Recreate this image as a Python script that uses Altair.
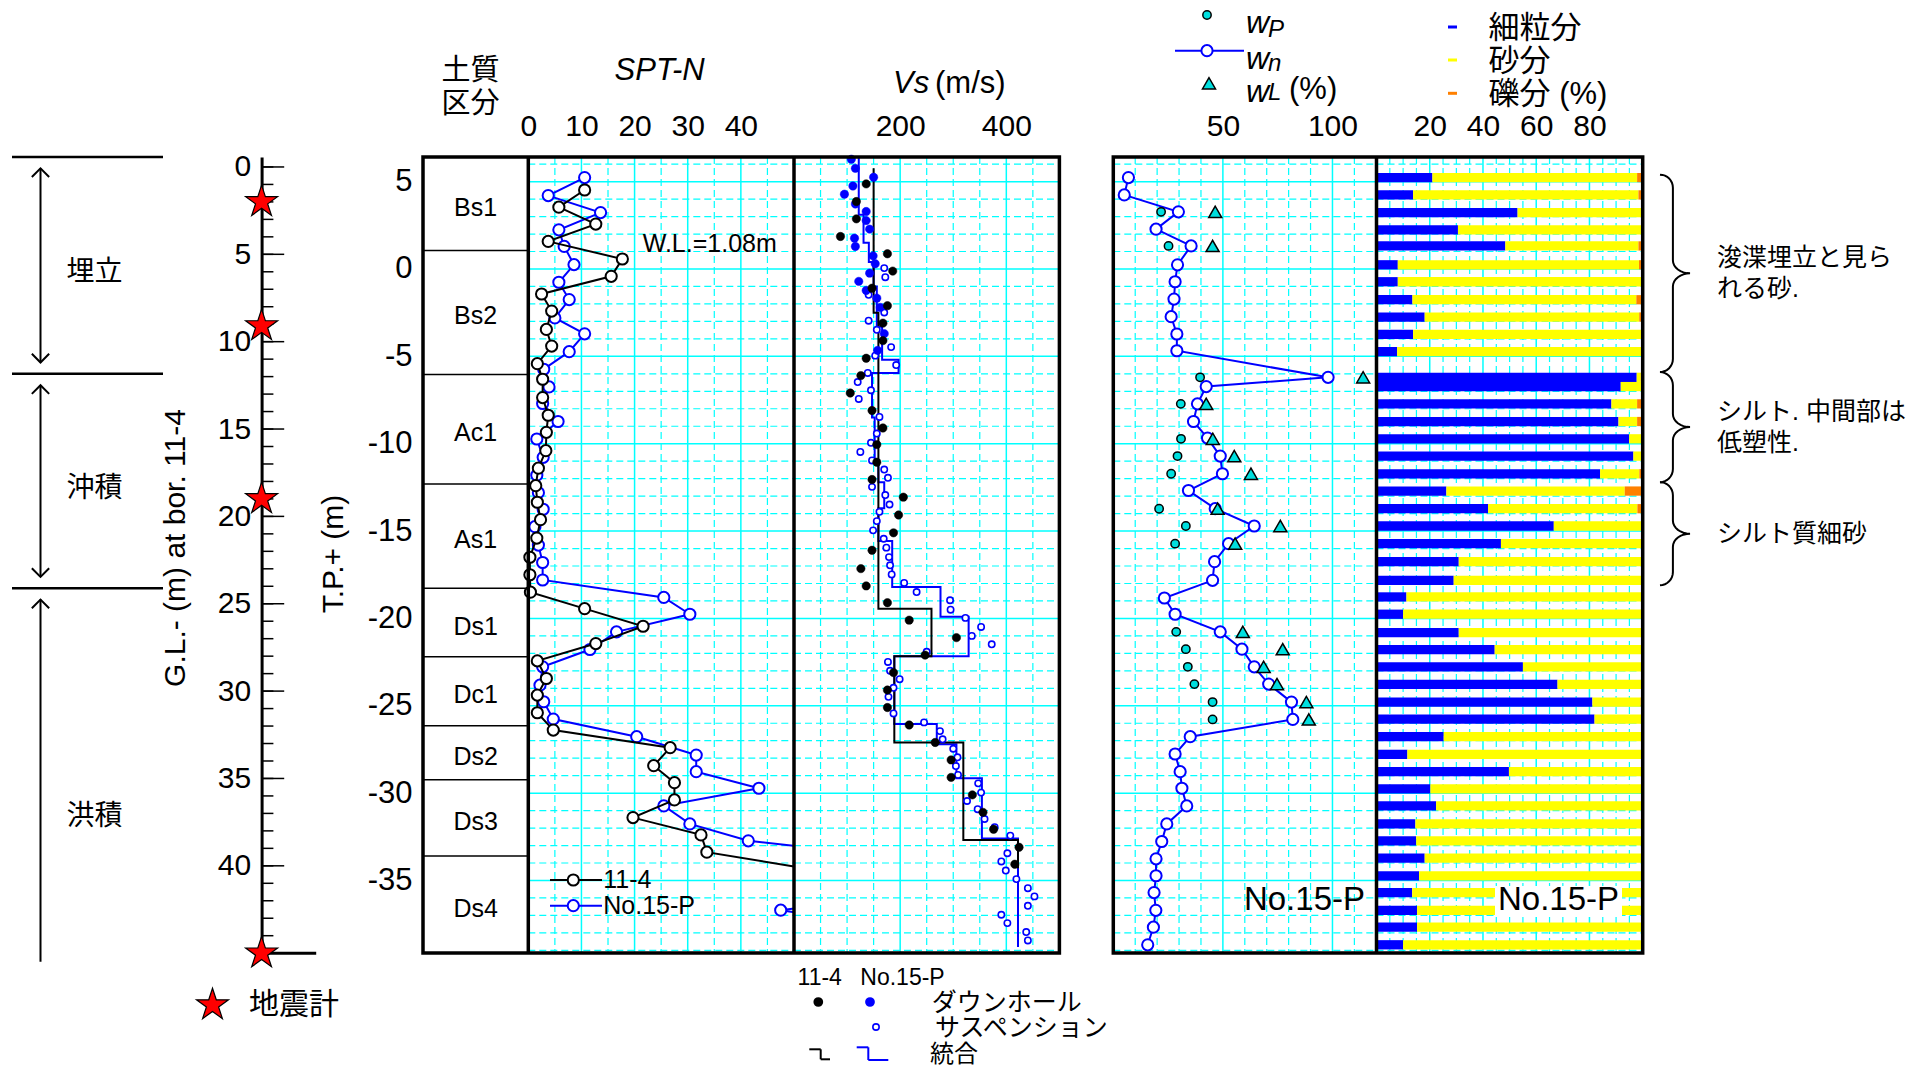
import altair as alt
import numpy as np
import pandas as pd

# ====================== DATA ======================
SOIL_NAMES = ["Bs1", "Bs2", "Ac1", "As1", "Ds1", "Dc1", "Ds2", "Ds3", "Ds4"]
SOIL_BOUNDS = [6.41, 1.06, -6.04, -12.3, -18.27, -22.2, -26.14, -29.24, -33.6, -39.15]

STRATA_NAMES = ["埋立", "沖積", "洪積"]
STRATA_TOP = [6.41, -6.0, -18.27]
STRATA_BOT = [-6.0, -18.27, -43.5]

SEISMO_GL = [2.0, 9.1, 19.0, 45.0]
GL_OFFSET = 5.84  # G.L.- depth = GL_OFFSET - T.P.

SPT_A_TP = [4.52, 3.54, 2.57, 1.58, 0.57, -0.42, -1.43, -2.41, -3.46, -4.41,
            -5.42, -6.31, -7.36, -8.37, -9.35, -10.4, -11.4, -12.4, -13.35, -14.35,
            -15.4, -16.5, -17.5, -18.5, -19.44, -20.45, -21.44, -22.43, -23.44, -24.39,
            -25.4, -26.39, -27.4, -28.43, -29.4, -30.39, -31.4, -32.39, -33.38, -34.4]
SPT_A_N = [10.6, 5.75, 12.7, 3.75, 17.7, 15.6, 2.5, 4.4, 3.4, 4.4,
           1.7, 2.7, 2.7, 3.75, 3.4, 3.3, 1.9, 1.4, 1.7, 2.3,
           1.6, 0.3, 0.3, 0.4, 10.6, 21.6, 12.7, 1.7, 3.4, 1.7,
           1.7, 4.7, 26.7, 23.6, 27.5, 27.5, 19.7, 32.5, 33.6, 54]

SPT_B_TP = [5.23, 4.2, 3.23, 2.24, 1.29, 0.25, -0.76, -1.75, -2.8, -3.71,
            -4.73, -5.74, -6.75, -7.7, -8.73, -9.73, -10.78, -11.8, -12.8, -13.75,
            -14.75, -15.8, -16.8, -17.8, -18.8, -19.76, -20.77, -21.78, -22.77, -23.82,
            -24.77, -25.76, -26.77, -27.82, -28.77, -29.72, -30.73, -31.76, -32.73, -33.73,
            -34.73, -35.73, -36.7, -37.7]
SPT_B_N = [10.6, 3.75, 13.6, 5.75, 6.75, 8.6, 5.75, 7.7, 5.0, 10.6,
           7.7, 2.9, 3.9, 2.7, 5.6, 1.6, 2.8, 1.6, 1.9, 2.8,
           1.25, 1.9, 2.7, 2.7, 25.5, 30.4, 16.6, 11.6, 2.7, 2.2,
           2.9, 4.7, 20.4, 31.6, 31.6, 43.4, 25.5, 30.4, 41.4, 71,
           70, 72, 47.5, 70]

VS_DH_A_TP = [4.87, 3.86, 2.87, 1.86, 0.87, -0.12, -1.1, -2.1, -3.1, -4.1,
              -5.11, -6.1, -7.1, -8.1, -9.1, -10.05, -11.06, -12.05, -13.06, -14.08,
              -15.1, -16.1, -17.15, -18.14, -19.1, -20.1, -21.1, -22.1, -23.1, -24.1,
              -25.1, -26.1, -27.1, -28.1, -29.1, -30.1, -31.1, -32.07, -33.1, -34.07]
VS_DH_A = [136, 117.5, 117.5, 87.5, 176, 186, 147, 176, 167.5, 167.5,
           136, 126, 106, 147, 167.5, 156, 156, 147, 206, 197,
           187.5, 147, 126, 136, 176, 217, 306, 247, 187.5, 176,
           176, 217, 266, 296, 296, 336, 356, 376, 424, 416]

VS_DH_B_TP = [6.28, 5.76, 5.25, 4.75, 4.28, 3.72, 3.29, 2.77, 2.28, 1.76,
              1.29, 0.75, 0.3, -0.24, -0.71, -1.23, -1.67, -2.2, -3.7, -4.66]
VS_DH_B = [108, 115.6, 150, 111, 95, 115.6, 136, 136, 142.5, 114,
           115.6, 149, 153, 142.5, 122, 136, 156, 162.5, 170, 157.5]

VS_PS_B_TP = [0.05, -0.47, -1.48, -2.49, -2.96, -3.48, -4.47, -4.96, -5.5, -5.95,
              -6.47, -6.94, -7.44, -8.47, -9.42, -9.95, -10.47, -10.96, -11.48, -11.95,
              -12.47, -12.94, -13.48, -13.9, -14.43, -14.96, -15.44, -15.95, -16.49, -16.96,
              -17.48, -17.97, -18.49, -18.96, -19.5, -19.97, -20.49, -21.0, -21.48, -21.91,
              -22.49, -23.0, -23.48, -23.97, -24.49, -25.44, -25.95, -26.45, -26.92, -27.46,
              -27.95, -28.45, -28.96, -29.44, -29.97, -30.45, -30.92, -31.48, -31.95, -32.43,
              -33.44, -33.91, -34.43, -34.92, -35.44, -35.91, -36.45, -36.96, -37.44, -37.95,
              -38.43]
VS_PS_B = [170, 172, 140.6, 170, 140.6, 156, 183, 153, 192.5, 139,
           120, 145, 122, 161, 156, 145, 125, 147, 170, 177,
           147, 172, 180, 161, 156, 149, 169, 174, 179, 181,
           184, 207.5, 231, 294, 295, 323, 352.5, 335, 372.5, 250,
           177, 181, 199, 187.5, 178, 187.5, 245, 275, 280, 300,
           308, 305, 309, 347, 352.5, 326, 346, 359, 378, 407.5,
           402, 390.6, 399, 419, 440.6, 453, 440.6, 390.6, 402, 437.5,
           440.6]

VS_STEP_A = [150, 159, 259, 189, 319, 422]
VS_STEP_A_TP = [5.76, -2.5, -19.44, -22.16, -27.1, -32.68, -34.3]
VS_STEP_B = [122, 131, 141, 150, 156, 166, 197, 147, 152, 159,
             170, 159, 185, 276, 329, 189, 269, 306, 354, 422]
VS_STEP_B_TP = [6.41, 3.1, 1.5, 0.4, -1.0, -3.3, -5.2, -5.95, -8.5, -11.0,
                -12.2, -13.7, -15.57, -18.2, -19.9, -22.16, -26.05, -27.2, -29.15, -32.6, -38.8]

WN_TP = [5.23, 4.24, 3.27, 2.28, 1.32, 0.24, -0.73, -1.72, -2.73, -3.72,
         -4.68, -6.2, -6.73, -7.72, -8.73, -9.68, -10.71, -11.72, -12.68, -13.72,
         -14.71, -15.72, -16.75, -17.82, -18.83, -19.76, -20.77, -21.76, -22.77, -23.76,
         -24.79, -25.78, -26.77, -27.76, -28.77, -29.72, -30.73, -31.76, -32.77, -33.76,
         -34.73, -35.69, -36.71, -37.67, -38.68]
WN = [6.9, 5.0, 29.7, 19.5, 35.5, 29.3, 28.2, 27.7, 26.4, 29.0,
      29.0, 98.0, 42.4, 38.4, 36.6, 43.0, 48.8, 49.8, 34.3, 46.5,
      64.3, 52.6, 46.2, 45.3, 23.3, 28.2, 48.8, 58.7, 64.3, 70.9,
      81.3, 81.9, 35.1, 28.2, 30.5, 31.3, 33.5, 24.4, 22.1, 19.5,
      19.5, 18.6, 19.4, 18.3, 15.7]
ATT_TP = [3.27, 1.32, -6.2, -7.72, -9.72, -10.71, -11.72, -13.72, -14.71, -15.72,
          -20.77, -21.76, -22.77, -23.76, -24.79, -25.78]
WP = [21.8, 25.2, 39.6, 30.8, 30.9, 29.3, 26.4, 20.9, 33.1, 28.2,
      28.7, 33.1, 34.0, 37.0, 45.3, 45.3]
WL = [46.5, 45.3, 114.0, 42.4, 45.4, 55.2, 62.8, 47.6, 76.2, 55.6,
      59.1, 77.3, 68.6, 74.7, 88.1, 89.2]

GR_TP = [5.23, 4.24, 3.23, 2.24, 1.32, 0.24, -0.73, -1.76, -2.75, -3.74,
         -4.73, -6.2, -6.73, -7.72, -8.73, -9.72, -10.71, -11.72, -12.71, -13.72,
         -14.71, -15.72, -16.75, -17.82, -18.77, -19.76, -20.81, -21.78, -22.77, -23.78,
         -24.79, -25.76, -26.77, -27.78, -28.77, -29.76, -30.73, -31.76, -32.73, -33.72,
         -34.73, -35.69, -36.71, -37.67, -38.68]
GR_FINES = [21, 13.75, 53, 30.6, 48.4, 8, 8, 13.5, 18.1, 13.75,
            7.75, 97.75, 91.75, 88.25, 90.9, 94.9, 96.5, 84, 26.25, 41.9,
            66.6, 46.75, 30.9, 29, 11.25, 10, 30.9, 44.4, 55, 68,
            81.1, 81.9, 25.25, 11.6, 49.75, 20.25, 22.4, 14.6, 14.9, 18.1,
            16, 13.4, 15.25, 15.25, 10]
GR_GRAVEL = [2.1, 1.6, 0.2, 0, 1.6, 1.4, 0.2, 2.4, 1.3, 0.3,
             0.6, 0.7, 0.3, 2.1, 2.1, 0.6, 0.4, 1.25, 6.75, 2.0,
             0, 0, 0, 0, 0, 0, 0.4, 0, 0.3, 0,
             0.75, 0, 0, 0.5, 0, 0, 0, 0, 0, 0,
             0, 0, 0, 0, 0]

BRACE_TOP = [5.4, -5.9, -12.2]
BRACE_BOT = [-5.9, -12.2, -18.1]
NOTES = ["浚渫埋立と見ら\nれる砂.", "シルト. 中間部は\n低塑性.", "シルト質細砂"]

SPT_TICKS = [0, 10, 20, 30, 40]
VS_TICKS = [200, 400]
PL_TICKS = [50, 100]
GR_TICKS = [20, 40, 60, 80]
TP_TICKS = list(range(5, -36, -5))
GL_TICKS = list(range(0, 46, 5))

# ====================== STYLE / LAYOUT ======================
LATIN = "Liberation Sans, Arial, Noto Sans CJK JP, sans-serif"
CYAN = "#00ffff"
BLUE = "#0000ff"
TURQ = "#00dede"
YEL = "#ffff00"
ORA = "#ff8000"

PLOT_LEFT, PLOT_TOP = 423, 157
W, H = 1219.7, 796
TP_TOP, TP_BOT = 6.41, -39.15
R_SOIL = [0, 105.3]
R_SPT = [105.3, 371]
R_VS = [371, 636.4]
R_PL = [690.3, 953.3]
R_GR = [953.5, 1219.7]
GL_X = -161.4
BAR_HALF = 0.265
NOTE_LH = 31
DUMMY = pd.DataFrame({"k": [0]})


def Yq(field="tp", axis=None):
    return alt.Y(f"{field}:Q", scale=alt.Scale(domain=[TP_BOT, TP_TOP], nice=False, zero=False), axis=axis)


def Ygl(field="gl", axis=None):
    return alt.Y(f"{field}:Q", scale=alt.Scale(domain=[GL_OFFSET - TP_TOP, GL_OFFSET - TP_BOT],
                                               reverse=True, nice=False, zero=False), axis=axis)


def Xq(field, dom, rng, axis=None):
    return alt.X(f"{field}:Q", scale=alt.Scale(domain=dom, range=rng, nice=False, zero=False), axis=axis)


def top_axis(vals):
    return alt.Axis(orient="top", values=vals, title=None, domain=False, ticks=False, tickSize=0,
                    grid=False, labelFont=LATIN, labelFontSize=30, labelColor="black",
                    labelPadding=16, labelFlush=False, labelOverlap=False,
                    labelExpr="'' + datum.value")


def txt(s, x, y, size=30, align="center", baseline="middle", italic=False, angle=None, color="black"):
    kw = dict(text=s, fontSize=size, font=LATIN, align=align, baseline=baseline, color=color)
    if italic:
        kw["fontStyle"] = "italic"
    if angle is not None:
        kw["angle"] = angle
    return alt.Chart(DUMMY).mark_text(**kw).encode(x=alt.value(x), y=alt.value(y))


def seg(x1, y1, x2, y2, color="black", width=2):
    return alt.Chart(DUMMY).mark_rule(color=color, strokeWidth=width).encode(
        x=alt.value(x1), y=alt.value(y1), x2=alt.value(x2), y2=alt.value(y2))


def hgrid(rng):
    df = pd.DataFrame({"tp": list(range(6, -40, -1))})
    mn = df[df.tp % 5 != 0]
    mj = df[df.tp % 5 == 0]
    a = alt.Chart(mn).mark_rule(color=CYAN, strokeWidth=1.2, strokeDash=[7, 4]).encode(
        y=Yq(), x=alt.value(rng[0]), x2=alt.value(rng[1]))
    b = alt.Chart(mj).mark_rule(color=CYAN, strokeWidth=1.5).encode(
        y=Yq(), x=alt.value(rng[0]), x2=alt.value(rng[1]))
    return [a, b]


def vgrid(dom, rng, step, majors, ticks):
    minors = [v for v in np.arange(dom[0] + step, dom[1], step) if v not in majors]
    a = alt.Chart(pd.DataFrame({"v": minors})).mark_rule(color=CYAN, strokeWidth=1.2, strokeDash=[7, 4]).encode(
        x=Xq("v", dom, rng), y=alt.value(0), y2=alt.value(H))
    b = alt.Chart(pd.DataFrame({"v": majors})).mark_rule(color=CYAN, strokeWidth=1.5).encode(
        x=Xq("v", dom, rng, axis=top_axis(ticks)), y=alt.value(0), y2=alt.value(H))
    return [a, b]


def pts(df, xf, dom, rng, **mk):
    base = dict(opacity=1, filled=True)
    base.update(mk)
    return alt.Chart(df).mark_point(**base).encode(x=Xq(xf, dom, rng), y=Yq())


L = []

# ---------------- soil column ----------------
tp_axis = alt.Axis(orient="left", values=TP_TICKS, labelExpr="'' + datum.value", ticks=False, tickSize=0,
                   domain=False, grid=False, labelFont=LATIN, labelFontSize=31, labelColor="black",
                   labelPadding=11, labelOverlap=False, title=None)
L.append(alt.Chart(pd.DataFrame({"tp": SOIL_BOUNDS[1:-1]})).mark_rule(color="black", strokeWidth=1.5).encode(
    y=Yq("tp", tp_axis), x=alt.value(R_SOIL[0]), x2=alt.value(R_SOIL[1])))
soil_lab = pd.DataFrame({"name": SOIL_NAMES,
                         "tp": [(a + b) / 2 for a, b in zip(SOIL_BOUNDS[:-1], SOIL_BOUNDS[1:])]})
L.append(alt.Chart(soil_lab).mark_text(font=LATIN, fontSize=25, color="black", dy=4).encode(
    y=Yq(), x=alt.value(sum(R_SOIL) / 2), text="name:N"))

# ---------------- SPT-N ----------------
SPT_DOM = [0, 50]
L += hgrid(R_SPT)
L += vgrid(SPT_DOM, R_SPT, 5, [10, 20, 30, 40], SPT_TICKS)
for tps, ns, col in [(SPT_B_TP, SPT_B_N, BLUE), (SPT_A_TP, SPT_A_N, "black")]:
    d = pd.DataFrame({"tp": tps, "n": ns})
    d["i"] = range(len(d))
    L.append(alt.Chart(d).mark_line(color=col, strokeWidth=2).encode(
        x=Xq("n", SPT_DOM, R_SPT), y=Yq(), order="i:Q"))
    L.append(pts(d[d.n <= 50], "n", SPT_DOM, R_SPT, shape="circle", fill="white", stroke=col,
                 strokeWidth=2, size=125))

# ---------------- Vs ----------------
VS_DOM = [0, 500]
L.append(alt.Chart(DUMMY).mark_rect(color="white").encode(
    x=alt.value(R_VS[0]), x2=alt.value(R_VS[1]), y=alt.value(0), y2=alt.value(H)))
L += hgrid(R_VS)
L += vgrid(VS_DOM, R_VS, 50, [200, 400], VS_TICKS)


def step_df(vals, bounds):
    xs, ys = [], []
    for v, t, b in zip(vals, bounds[:-1], bounds[1:]):
        xs += [v, v]
        ys += [t, b]
    return pd.DataFrame({"vs": xs, "tp": ys, "i": range(len(xs))})


for vals, bnds, col in [(VS_STEP_B, VS_STEP_B_TP, BLUE), (VS_STEP_A, VS_STEP_A_TP, "black")]:
    L.append(alt.Chart(step_df(vals, bnds)).mark_line(color=col, strokeWidth=2).encode(
        x=Xq("vs", VS_DOM, R_VS), y=Yq(), order="i:Q"))
L.append(pts(pd.DataFrame({"tp": VS_PS_B_TP, "vs": VS_PS_B}), "vs", VS_DOM, R_VS,
             shape="circle", fill="white", stroke=BLUE, strokeWidth=1.6, size=40))
L.append(pts(pd.DataFrame({"tp": VS_DH_B_TP, "vs": VS_DH_B}), "vs", VS_DOM, R_VS,
             shape="circle", fill=BLUE, stroke=BLUE, strokeWidth=0.5, size=70))
L.append(pts(pd.DataFrame({"tp": VS_DH_A_TP, "vs": VS_DH_A}), "vs", VS_DOM, R_VS,
             shape="circle", fill="black", stroke="black", strokeWidth=0.5, size=70))

# ---------------- plasticity ----------------
PL_DOM = [0, 120]
L += hgrid(R_PL)
L += vgrid(PL_DOM, R_PL, 10, [50, 100], PL_TICKS)
wn = pd.DataFrame({"tp": WN_TP, "w": WN})
wn["i"] = range(len(wn))
L.append(alt.Chart(wn).mark_line(color=BLUE, strokeWidth=2).encode(
    x=Xq("w", PL_DOM, R_PL), y=Yq(), order="i:Q"))
L.append(pts(wn, "w", PL_DOM, R_PL, shape="circle", fill="white", stroke=BLUE, strokeWidth=2, size=125))
L.append(pts(pd.DataFrame({"tp": ATT_TP, "w": WP}), "w", PL_DOM, R_PL,
             shape="circle", fill=TURQ, stroke="black", strokeWidth=1.5, size=70))
L.append(pts(pd.DataFrame({"tp": ATT_TP, "w": WL}), "w", PL_DOM, R_PL,
             shape="triangle-up", fill=TURQ, stroke="black", strokeWidth=1.5, size=170))

# ---------------- grain size ----------------
GR_DOM = [0, 100]
L += hgrid(R_GR)
L += vgrid(GR_DOM, R_GR, 5, [20, 40, 60, 80], GR_TICKS)
gr = pd.DataFrame({"tp": GR_TP, "fines": GR_FINES, "gravel": GR_GRAVEL})
gr["zero"] = 0.0
gr["sand_end"] = 100 - gr.gravel
gr["full"] = 100.0
gr["top"] = gr.tp + BAR_HALF
gr["bot"] = gr.tp - BAR_HALF
for a, b, col in [("zero", "fines", BLUE), ("fines", "sand_end", YEL), ("sand_end", "full", ORA)]:
    L.append(alt.Chart(gr).mark_rect(color=col).encode(
        x=Xq(a, GR_DOM, R_GR), x2=f"{b}:Q", y=Yq("top"), y2="bot:Q"))
L.append(alt.Chart(DUMMY).mark_rect(color="white").encode(
    x=alt.value(1072), x2=alt.value(1199), y=alt.value(729), y2=alt.value(760)))
L.append(txt("No.15-P", 942, 743, size=33, align="right"))
L.append(txt("No.15-P", 1135.5, 743, size=33))

# ---------------- frames ----------------
for x0, x1 in [(R_SOIL[0], R_VS[1]), (R_PL[0], R_GR[1])]:
    L.append(alt.Chart(DUMMY).mark_rect(fillOpacity=0, stroke="black", strokeWidth=3.5).encode(
        x=alt.value(x0), x2=alt.value(x1), y=alt.value(0), y2=alt.value(H)))
for xv in [R_SPT[0], R_VS[0], R_GR[0]]:
    L.append(seg(xv, 0, xv, H, width=3.5))

# ---------------- G.L. axis & seismometers ----------------
gl_axis = alt.Axis(orient="left", offset=-GL_X, values=GL_TICKS, ticks=False, tickSize=0, domain=True,
                   domainColor="black", domainWidth=3, grid=False, labelFont=LATIN, labelFontSize=30,
                   labelColor="black", labelPadding=11, labelOverlap=False, title=None)
gl_all = pd.DataFrame({"gl": list(range(0, 46))})
L.append(alt.Chart(gl_all).mark_rule(color="black", strokeWidth=1.5).encode(
    y=Ygl("gl", gl_axis), x=alt.value(GL_X), x2=alt.value(GL_X + 11.8)))
L.append(alt.Chart(gl_all[gl_all.gl % 5 == 0]).mark_rule(color="black", strokeWidth=1.5).encode(
    y=Ygl(), x=alt.value(GL_X), x2=alt.value(GL_X + 22.6)))
L.append(alt.Chart(pd.DataFrame({"gl": [45]})).mark_rule(color="black", strokeWidth=3).encode(
    y=Ygl(), x=alt.value(GL_X), x2=alt.value(GL_X + 54.6)))
STAR = "M0,-1L0.2245,-0.309L0.951,-0.309L0.363,0.118L0.588,0.809L0,0.382L-0.588,0.809L-0.363,0.118L-0.951,-0.309L-0.2245,-0.309Z"
L.append(alt.Chart(pd.DataFrame({"gl": SEISMO_GL})).mark_point(
    shape=STAR, filled=True, fill="#ff0000", stroke="black", strokeWidth=1.2, size=1130, opacity=1).encode(
    y=Ygl(), x=alt.value(GL_X)))
L.append(alt.Chart(DUMMY).mark_point(
    shape=STAR, filled=True, fill="#ff0000", stroke="black", strokeWidth=1.2, size=1130, opacity=1).encode(
    x=alt.value(-210.5), y=alt.value(848)))
L.append(txt("地震計", -174, 848, size=30, align="left"))
L.append(txt("G.L.- (m) at bor. 11-4", -247.4, 391, size=30, angle=270))
L.append(txt("T.P.+ (m)", -89, 397, size=30, angle=270))

# ---------------- strata column ----------------
st = pd.DataFrame({"name": STRATA_NAMES, "top": STRATA_TOP, "bot": STRATA_BOT})
st["a_top"] = st.top - 0.65
st["a_bot"] = np.maximum(st.bot + 0.65, TP_BOT - 0.5)
st["mid"] = (st.top + st.bot) / 2
L.append(alt.Chart(st).mark_rule(color="black", strokeWidth=2.5).encode(
    y=Yq("top"), x=alt.value(-411), x2=alt.value(-260)))
L.append(alt.Chart(st).mark_rule(color="black", strokeWidth=2).encode(
    y=Yq("a_top"), y2="a_bot:Q", x=alt.value(-382.5)))
L.append(alt.Chart(st).mark_point(shape="M-1,1L0,0L1,1", filled=False, stroke="black", strokeWidth=2,
                                  size=300, opacity=1).encode(y=Yq("a_top"), x=alt.value(-382.5)))
L.append(alt.Chart(st.iloc[:2]).mark_point(shape="M-1,-1L0,0L1,-1", filled=False, stroke="black",
                                           strokeWidth=2, size=300, opacity=1).encode(
    y=Yq("a_bot"), x=alt.value(-382.5)))
L.append(alt.Chart(st).mark_text(font=LATIN, fontSize=28, color="black", dy=8).encode(
    y=Yq("mid"), x=alt.value(-328.4), text="name:N"))

# ---------------- headers ----------------
L.append(alt.Chart(DUMMY).mark_text(text="土質\n区分", lineBreak="\n", lineHeight=33, fontSize=29, font=LATIN,
                                    color="black").encode(x=alt.value(47.4), y=alt.value(-85.8)))
L.append(txt("SPT-N", 236.6, -86, size=31, italic=True))
L.append(txt("Vs", 470, -73.5, size=31, italic=True, align="left"))
L.append(txt("(m/s)", 512, -73.5, size=31, align="left"))

# W.L. and SPT legend
L.append(txt("W.L.=1.08m", 219.7, 87, size=25, align="left"))
for yy, col, lab in [(723, "black", "11-4"), (748.7, BLUE, "No.15-P")]:
    L.append(seg(127, yy, 179, yy, color=col, width=2))
    L.append(alt.Chart(DUMMY).mark_point(shape="circle", filled=True, fill="white", stroke=col,
                                         strokeWidth=2, size=125, opacity=1).encode(
        x=alt.value(150.3), y=alt.value(yy)))
    L.append(txt(lab, 180.3, yy, size=25, align="left"))

# plasticity legend
L.append(alt.Chart(DUMMY).mark_point(shape="circle", filled=True, fill=TURQ, stroke="black", strokeWidth=1.5,
                                     size=70, opacity=1).encode(x=alt.value(784), y=alt.value(-142)))
L.append(seg(752, -106.3, 821, -106.3, color=BLUE, width=2))
L.append(alt.Chart(DUMMY).mark_point(shape="circle", filled=True, fill="white", stroke=BLUE, strokeWidth=2,
                                     size=125, opacity=1).encode(x=alt.value(784), y=alt.value(-106.3)))
L.append(alt.Chart(DUMMY).mark_point(shape="triangle-up", filled=True, fill=TURQ, stroke="black",
                                     strokeWidth=1.5, size=170, opacity=1).encode(
    x=alt.value(786), y=alt.value(-73.7)))
for yy, sub, sy in [(-134, "P", -127), (-98, "n", -93), (-65.3, "L", -63.7)]:
    L.append(txt("w", 823, yy, size=32, italic=True, align="left"))
    L.append(txt(sub, 845, sy, size=24, italic=True, align="left"))
L.append(txt("(%)", 866, -67, size=31, align="left"))

# grain legend
for yy, col, lab in [(-130, BLUE, "細粒分"), (-97, YEL, "砂分"), (-63.7, ORA, "礫分 (%)")]:
    L.append(seg(1025, yy, 1034, yy, color=col, width=3))
    L.append(txt(lab, 1065.6, yy + 1.5, size=31, align="left"))

# Vs legend (bottom)
L.append(txt("11-4", 396.7, 821, size=23))
L.append(txt("No.15-P", 479.5, 821, size=23))
L.append(alt.Chart(DUMMY).mark_point(shape="circle", filled=True, fill="black", stroke="black", size=60,
                                     opacity=1).encode(x=alt.value(395.3), y=alt.value(845)))
L.append(alt.Chart(DUMMY).mark_point(shape="circle", filled=True, fill=BLUE, stroke=BLUE, size=60,
                                     opacity=1).encode(x=alt.value(447), y=alt.value(845)))
L.append(txt("ダウンホール", 508.7, 846, size=25, align="left"))
L.append(alt.Chart(DUMMY).mark_point(shape="circle", filled=True, fill="white", stroke=BLUE, strokeWidth=1.6,
                                     size=40, opacity=1).encode(x=alt.value(453), y=alt.value(870)))
L.append(txt("サスペンション", 512, 871, size=25, align="left"))
L.append(seg(386.3, 892.3, 397.7, 892.3))
L.append(seg(397.7, 892.3, 397.7, 902.3))
L.append(seg(397.7, 902.3, 407, 902.3))
L.append(seg(433.7, 890.3, 445.3, 890.3, color=BLUE))
L.append(seg(445.3, 890.3, 445.3, 903, color=BLUE))
L.append(seg(445.3, 903, 465.3, 903, color=BLUE))
L.append(txt("統合", 507, 898, size=24, align="left"))

# ---------------- braces & notes ----------------


def brace_df(top, bot, rr=0.75, us=0.43, n=9):
    mid = (top + bot) / 2
    th = np.linspace(0, np.pi / 2, n)
    xs, ys = [], []
    for t in th:
        xs.append(us * np.sin(t)); ys.append(top - rr * (1 - np.cos(t)))
    for t in th:
        xs.append(us + (1 - us) * (1 - np.cos(t))); ys.append(mid + rr * (1 - np.sin(t)))
    for t in th[::-1]:
        xs.append(us + (1 - us) * (1 - np.cos(t))); ys.append(mid - rr * (1 - np.sin(t)))
    for t in th[::-1]:
        xs.append(us * np.sin(t)); ys.append(bot + rr * (1 - np.cos(t)))
    return pd.DataFrame({"u": xs, "tp": ys})


for t, b in zip(BRACE_TOP, BRACE_BOT):
    d = brace_df(t, b)
    d["i"] = range(len(d))
    L.append(alt.Chart(d).mark_line(color="black", strokeWidth=2).encode(
        x=Xq("u", [0, 1], [1237, 1267]), y=Yq(), order="i:Q"))
notes = pd.DataFrame({"note": NOTES, "tp": [(t + b) / 2 for t, b in zip(BRACE_TOP, BRACE_BOT)]})
notes["nl"] = notes.note.str.count("\n")
for nl, grp in notes.groupby("nl"):
    L.append(alt.Chart(grp).mark_text(font=LATIN, fontSize=25, color="black", align="left", lineBreak="\n",
                                      lineHeight=NOTE_LH, dy=-nl * NOTE_LH / 2).encode(
        y=Yq(), x=alt.value(1294), text="note:N"))

chart = alt.layer(*L).resolve_scale(x="independent", y="independent").properties(
    width=W, height=H,
    autosize=alt.AutoSizeParams(type="none"),
    padding={"left": PLOT_LEFT, "top": PLOT_TOP, "right": 1926 - PLOT_LEFT - W, "bottom": 1069 - PLOT_TOP - H},
    background="white",
).configure_view(strokeWidth=0)

chart.save("out.html", embed_options={"renderer": "svg", "actions": False})
